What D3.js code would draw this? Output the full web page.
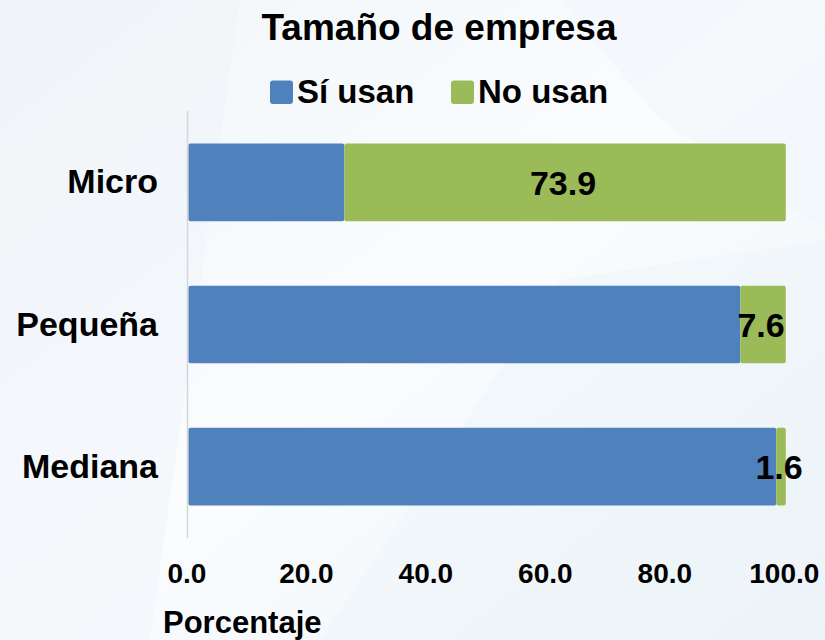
<!DOCTYPE html>
<html>
<head>
<meta charset="utf-8">
<script src="https://cdn.jsdelivr.net/npm/d3@7"></script>
<style>
  html, body { margin: 0; padding: 0; background: #f6f9fc; }
  svg { display: block; font-family: "Liberation Sans", Arial, sans-serif; font-weight: bold; }
</style>
</head>
<body>
<div id="chart"></div>
<script>
// Empresas por tamaño: porcentaje que sí usan / no usan
const categories = ["Micro", "Pequeña", "Mediana"];
const noUsan = [73.9, 7.6, 1.6];
const siUsan = noUsan.map(v => +(100 - v).toFixed(1));
const seriesNames = ["Sí usan", "No usan"];
const xTicks = [0, 20, 40, 60, 80, 100];

const W = 825, H = 640;
const colors = ["#4f81bd", "#9bbb59"];

const svg = d3.select("#chart").append("svg").attr("width", W).attr("height", H);

// soft background wash
const defs = svg.append("defs");
const g1 = defs.append("linearGradient").attr("id", "bg").attr("x1", 0).attr("y1", 0).attr("x2", 1).attr("y2", 1);
g1.append("stop").attr("offset", "0%").attr("stop-color", "#f2f6fa");
g1.append("stop").attr("offset", "50%").attr("stop-color", "#fafcfe");
g1.append("stop").attr("offset", "100%").attr("stop-color", "#eff5f9");
svg.append("rect").attr("width", W).attr("height", H).attr("fill", "url(#bg)");
svg.append("path").attr("d", "M0,0 L240,0 L150,640 L0,640 Z").attr("fill", "#edf3f8").attr("opacity", 0.4);
svg.append("path").attr("d", "M320,640 L560,280 L825,240 L825,640 Z").attr("fill", "#e8f2f6").attr("opacity", 0.35);
svg.append("path").attr("d", "M560,0 L825,0 L825,230 L660,120 Z").attr("fill", "#eef4f9").attr("opacity", 0.4);

const x = d3.scaleLinear().domain([0, 100]).range([188.4, 785.8]);
const y = d3.scaleBand().domain(categories).range([111, 538]).paddingInner(0.454).paddingOuter(0.2285);

const rows = categories.map((c, i) => ({ cat: c, values: [siUsan[i], noUsan[i]] }));
const stacked = d3.stack().keys([0, 1]).value((d, k) => d.values[k])(rows);

// Title
svg.append("text").attr("x", 439).attr("y", 40).attr("text-anchor", "middle")
  .attr("font-size", 37).attr("fill", "#000").text("Tamaño de empresa");

// Legend
const legend = svg.append("g");
const legendItems = [{ x: 270, name: seriesNames[0], c: colors[0] }, { x: 451, name: seriesNames[1], c: colors[1] }];
legendItems.forEach(it => {
  legend.append("rect").attr("x", it.x).attr("y", 80.5).attr("width", 23).attr("height", 23.5).attr("rx", 3).attr("fill", it.c);
  legend.append("text").attr("x", it.x + 27).attr("y", 102.5).attr("font-size", 33).attr("fill", "#000").text(it.name);
});

// Bars
stacked.forEach((layer, k) => {
  svg.append("g").selectAll("rect").data(layer).join("rect")
    .attr("x", d => x(d[0]))
    .attr("y", d => y(d.data.cat))
    .attr("width", d => x(d[1]) - x(d[0]))
    .attr("height", y.bandwidth())
    .attr("rx", 2)
    .attr("fill", colors[k]);
});

// Vertical axis line
svg.append("line").attr("x1", 187.5).attr("x2", 187.5).attr("y1", 111).attr("y2", 538)
  .attr("stroke", "#d4d6d9").attr("stroke-width", 1.5);

// Data labels (No usan), centered in green segment
svg.append("g").selectAll("text").data(stacked[1]).join("text")
  .attr("x", d => (x(d[0]) + x(d[1])) / 2 - 2)
  .attr("y", d => y(d.data.cat) + y.bandwidth() / 2 + 12.5)
  .attr("text-anchor", "middle").attr("font-size", 34).attr("fill", "#000")
  .text(d => d3.format(".1f")(d[1] - d[0]));

// Category labels
svg.append("g").selectAll("text").data(categories).join("text")
  .attr("x", 158).attr("y", c => y(c) + y.bandwidth() / 2 + 11)
  .attr("text-anchor", "end").attr("font-size", 34).attr("fill", "#000").text(c => c);

// X axis tick labels
const xAxis = d3.axisBottom(x).tickValues(xTicks).tickFormat(d3.format(".1f")).tickSize(0).tickPadding(0);
const ax = svg.append("g").attr("transform", "translate(-2,0)").call(xAxis);
ax.select(".domain").remove();
ax.selectAll("text").attr("font-size", 28).attr("font-family", "Liberation Sans, Arial, sans-serif")
  .attr("font-weight", "bold").attr("fill", "#000").attr("dy", null).attr("y", 582.5);

// Axis title
svg.append("text").attr("x", 163).attr("y", 633).attr("font-size", 31).attr("fill", "#000").text("Porcentaje");
</script>
</body>
</html>
